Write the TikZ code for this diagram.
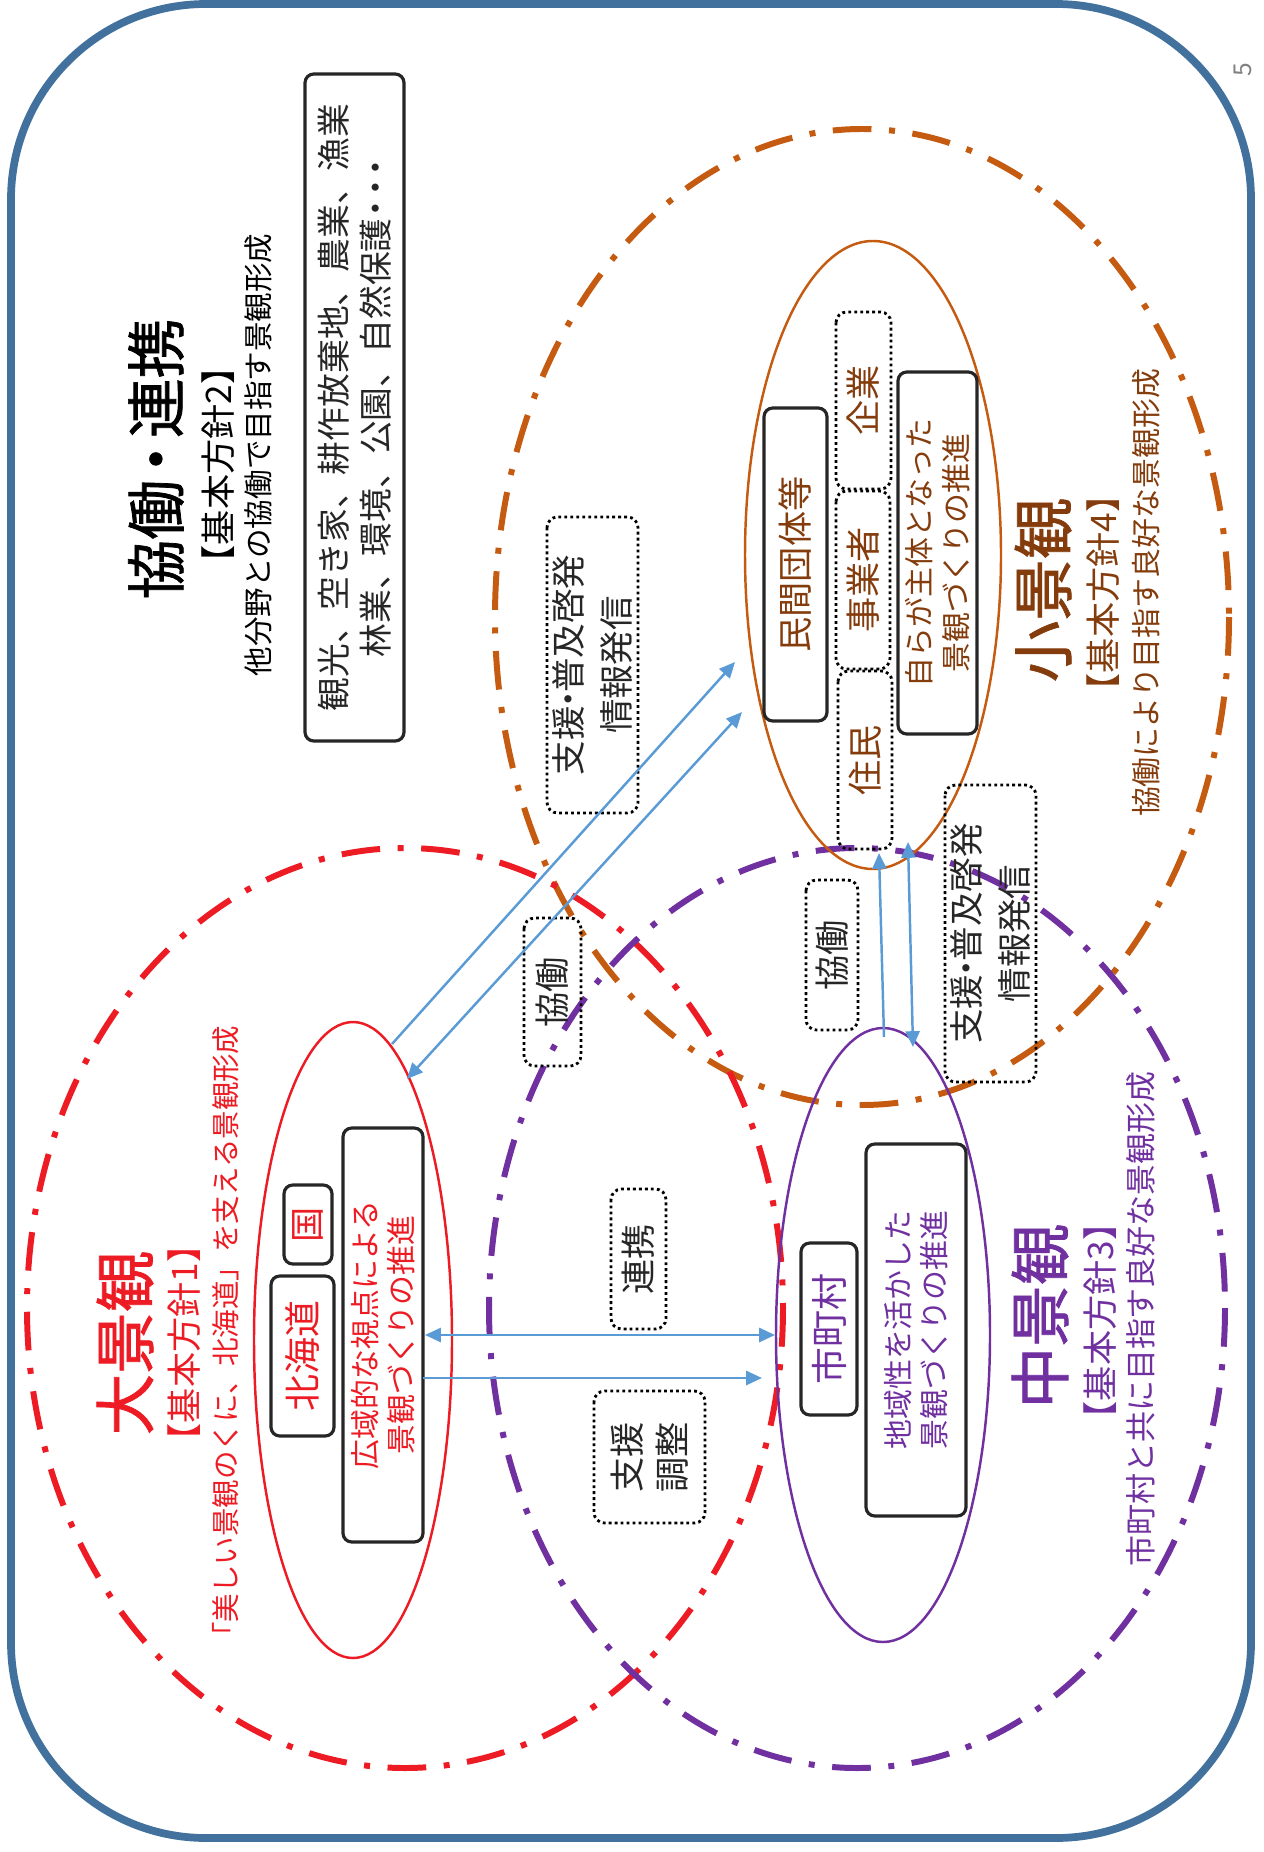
\documentclass[tikz,border=0pt]{standalone}
\usepackage{fontspec}
\setmainfont{Noto Sans CJK JP}
\newfontfamily\ttlfont[FakeBold=1.2]{Noto Sans CJK JP}
\usetikzlibrary{arrows.meta}
\definecolor{redc}{HTML}{ED1C24}
\definecolor{purc}{HTML}{7030A0}
\definecolor{orac}{HTML}{C55A11}
\definecolor{brnc}{HTML}{843C0C}
\definecolor{bluc}{HTML}{5B9BD5}
\definecolor{bordc}{HTML}{41719C}
\definecolor{darkc}{HTML}{262626}
\newcommand{\fsz}[2]{\fontsize{#1pt}{#2pt}\selectfont}
\newcommand{\ndot}{\kern-0.3em・\kern-0.3em}
\begin{document}
\begin{tikzpicture}[x=0.01cm,y=-0.01cm,
  bigring/.style={line width=1.7pt, dash pattern=on 11pt off 5pt on 1.7pt off 5pt},
  inring/.style={line width=0.7pt},
  sz/.style 2 args={minimum width=#2*0.01cm, minimum height=#1*0.01cm},
  solidbox/.style={draw=darkc, line width=0.9pt, rounded corners=2.5pt, rotate=90, inner sep=0pt, align=center},
  dotbox/.style={draw=black, line width=0.8pt, dash pattern=on 0.8pt off 0.9pt, rounded corners=3pt, rotate=90, inner sep=0pt, align=center},
  rtext/.style={rotate=90, inner sep=0pt, align=center},
  conn/.style={draw=bluc, line width=0.7pt, -{Triangle[length=4.5pt,width=4pt]}},
  conntwo/.style={draw=bluc, line width=0.7pt, {Triangle[length=4.5pt,width=4pt]}-{Triangle[length=4.5pt,width=4pt]}}
]
\useasboundingbox (0,0) rectangle (1263,1852);
% outer frame
\draw[bordc, line width=2.2pt, rounded corners=1.95cm] (11,4) rectangle (1251,1838);
\node[rtext, text=gray, font=\fsz{7}{8}] (pg) at (1243,70) {5};

% big dash-dot rings
\draw[orac, bigring] (862,617) ellipse [x radius=367, y radius=488];
\draw[redc, bigring] (405,1308) ellipse [x radius=378, y radius=460];
\draw[purc, bigring] (857,1308) ellipse [x radius=368, y radius=460];

% inner ellipses
\draw[redc, inring] (353,1340) ellipse [x radius=99, y radius=318];
\draw[purc, inring] (883,1335) ellipse [x radius=107, y radius=307];
\draw[orac, inring] (873,555) ellipse [x radius=128, y radius=314];

% collaboration title block
\node[rtext, font=\fsz{17}{20}\ttlfont] (t2) at (156,459) {協働\kern-0.15em・\kern-0.15em 連携};
\node[rtext, font=\fsz{10}{12}] (t2b) at (218,465) {【基本方針2】};
\node[rtext, font=\fsz{8.4}{10}] (t2c) at (258,455) {他分野との協働で目指す景観形成};
\node[solidbox, sz={99}{667}, text=darkc, font=\fsz{9.6}{12}] (box2) at (354.5,407.5)
  {観光、空き家、耕作放棄地、農業、漁業\\林業、環境、公園、自然保護\kern-0.2em・\kern-0.4em・\kern-0.4em・\kern-0.2em};

% large landscape (red)
\node[rtext, text=redc, font=\fsz{17.5}{20}\ttlfont] (t1) at (125,1343) {大景観};
\node[rtext, text=redc, font=\fsz{10}{12}] (t1b) at (184,1343) {【基本方針1】};
\node[rtext, text=redc, font=\fsz{8.1}{10}] (t1c) at (226,1338) {「美しい景観のくに、北海道」を支える景観形成};
\node[solidbox, sz={63}{160}, text=redc, font=\fsz{10.5}{12}] (hokkaido) at (302.5,1356) {北海道};
\node[solidbox, sz={48}{79}, text=redc, font=\fsz{10}{12}] (kuni) at (308,1224.5) {国};
\node[solidbox, sz={80}{414}, text=redc, font=\fsz{8.5}{10.3}] (koiki) at (383,1335) {広域的な視点による\\景観づくりの推進};

% middle landscape (purple)
\node[rtext, text=purc, font=\fsz{17.5}{20}\ttlfont] (t3) at (1040,1316) {中景観};
\node[rtext, text=purc, font=\fsz{10}{12}] (t3b) at (1100,1321) {【基本方針3】};
\node[rtext, text=purc, font=\fsz{8.8}{10}] (t3c) at (1141,1319) {市町村と共に目指す良好な景観形成};
\node[solidbox, sz={56}{172}, text=purc, font=\fsz{10.5}{12}] (shichoson) at (829,1329) {市町村};
\node[solidbox, sz={100}{372}, text=purc, font=\fsz{8.5}{10.3}] (chiiki) at (916,1330) {地域性を活かした\\景観づくりの推進};

% small landscape (orange)
\node[rtext, text=brnc, font=\fsz{17.5}{20}\ttlfont] (t4) at (1043,590) {小景観};
\node[rtext, text=brnc, font=\fsz{10}{12}] (t4b) at (1103,593) {【基本方針4】};
\node[rtext, text=brnc, font=\fsz{8.5}{10}] (t4c) at (1146,593) {協働により目指す良好な景観形成};
\node[solidbox, sz={63}{313}, text=brnc, font=\fsz{10}{12}] (minkan) at (795.5,564.5) {民間団体等};
\node[dotbox, sz={55}{177}, text=brnc, font=\fsz{10}{12}] (kigyo) at (863.5,400.5) {企業};
\node[dotbox, sz={54}{178}, text=brnc, font=\fsz{10}{12}] (jigyo) at (863,580) {事業者};
\node[dotbox, sz={54}{178}, text=brnc, font=\fsz{10}{12}] (jumin) at (865,760) {住民};
\node[solidbox, sz={79}{362}, text=brnc, font=\fsz{8.5}{10.3}] (mizu) at (937.5,553) {自らが主体となった\\景観づくりの推進};

% dotted relation labels
\node[dotbox, sz={91}{296}, text=darkc, font=\fsz{9.8}{13.4}] (shienA) at (592.5,665) {支援\ndot 普及啓発\\情報発信};
\node[dotbox, sz={91}{297}, text=darkc, font=\fsz{9.8}{13.4}] (shienB) at (990.5,933.5) {支援\ndot 普及啓発\\情報発信};
\node[dotbox, sz={57}{148}, text=darkc, font=\fsz{10}{12}] (kyodoA) at (552.5,992) {協働};
\node[dotbox, sz={52}{150}, text=darkc, font=\fsz{10}{12}] (kyodoB) at (832,955) {協働};
\node[dotbox, sz={55}{140}, text=darkc, font=\fsz{10}{12}] (renkei) at (638.5,1259) {連携};
\node[dotbox, sz={111}{132}, text=darkc, font=\fsz{10}{12.8}] (shienC) at (649.5,1457) {支援\\調整};

% connector end points on the ellipses
\coordinate (a1s) at (392,1044); \coordinate (a1e) at (735,662);
\coordinate (a2s) at (742,712);  \coordinate (a2e) at (407,1079);
\coordinate (v1s) at (884,1037); \coordinate (v1e) at (879,853);
\coordinate (v2s) at (908,842);  \coordinate (v2e) at (913,1047);
\coordinate (h1s) at (425,1335); \coordinate (h1e) at (775,1335);
\coordinate (h2s) at (423,1378); \coordinate (h2e) at (762,1378);

\draw[conn] (a1s) -- (a1e);
\draw[conntwo] (a2s) -- (a2e);
\draw[conn] (v1s) -- (v1e);
\draw[conntwo] (v2s) -- (v2e);
\draw[conntwo] (h1s) -- (h1e);
\draw[conn] (h2s) -- (h2e);
\end{tikzpicture}
\end{document}
